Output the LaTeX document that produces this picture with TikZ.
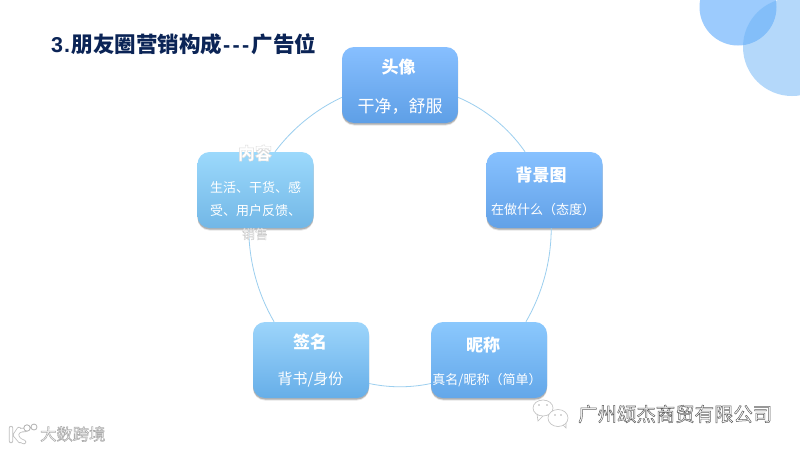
\documentclass[tikz,border=0pt]{standalone}
\usepackage{fontspec}
\usetikzlibrary{shadows}
\setmainfont{Noto Sans CJK SC}
\newfontfamily\latinbold[BoldFont=Liberation Sans Bold]{Liberation Sans}
\definecolor{titleblue}{HTML}{0B2456}
\definecolor{linkblue}{HTML}{9CCFEF}
\newcommand{\strokedtext}[3]{\special{pdf:code q 2 Tr #1 w #2 G}#3\special{pdf:code Q}}
\tikzset{
  box/.style={rounded corners=12pt,minimum width=116pt,minimum height=76pt,inner sep=0pt,
    general shadow={shadow yshift=-2.5pt,fill=black,opacity=.10,rounded corners=12pt,minimum width=118pt,minimum height=76pt},
    general shadow={shadow yshift=-1.5pt,fill=black,opacity=.22,rounded corners=12pt}},
  headtxt/.style={text=white,font=\fontsize{17}{17}\selectfont\bfseries,inner sep=0pt},
  subtxt/.style={text=white,font=\fontsize{13}{13}\selectfont,inner sep=0pt},
  link/.style={draw=linkblue,line width=.8pt,looseness=.87}
}
\begin{document}
\begin{tikzpicture}[x=1pt,y=-1pt]
\useasboundingbox (0,0) rectangle (800,450);
\fill[white] (0,0) rectangle (800,450);
% corner circles
\fill[fill={rgb,255:red,156;green,203;blue,253}] (738,7) circle[radius=38.5];
\fill[fill={rgb,255:red,107;green,179;blue,247},opacity=.5] (792,47) circle[radius=49];
% title
\node[anchor=west,inner sep=0pt,text=titleblue] (title) at (51,44)
  {\fontsize{21.5}{21.5}\selectfont\bfseries{\latinbold\bfseries 3\kern1pt.\kern1.5pt}朋友圈营销构成{\latinbold\bfseries\kern1pt-\kern2.3pt-\kern2.3pt-\kern2.3pt}广告位};
% boxes
\node[box,top color={rgb,255:red,135;green,191;blue,255},bottom color={rgb,255:red,94;green,159;blue,230}] (head) at (400,85) {};
\node[box,top color={rgb,255:red,135;green,193;blue,255},bottom color={rgb,255:red,98;green,161;blue,231}] (bg) at (544.5,190) {};
\node[box,top color={rgb,255:red,139;green,200;blue,253},bottom color={rgb,255:red,99;green,167;blue,233}] (nick) at (489,360) {};
\node[box,top color={rgb,255:red,157;green,213;blue,251},bottom color={rgb,255:red,102;green,174;blue,232}] (sign) at (311,360) {};
\node[box,top color={rgb,255:red,156;green,217;blue,252},bottom color={rgb,255:red,114;green,183;blue,230}] (cont) at (255.5,190) {};
% ring
\draw[link] (head.-12) to[bend left=16] (bg.117);
\draw[link] (bg.-80) to[bend left=15] (nick.46);
\draw[link] (nick.202) to[bend left=12] (sign.-22);
\draw[link] (sign.134) to[bend left=15] (cont.260);
\draw[link] (cont.63) to[bend left=14] (head.192);
% texts
\node[headtxt] (t1) at (398.5,67) {头像};
\node[text=white,inner sep=0pt,font=\fontsize{17}{17}\selectfont] (s1) at (400,106) {干净，舒服};
\node[headtxt] (t2) at (541,175) {背景图};
\node[subtxt] (s2) at (543,210) {在做什么（态度）};
\node[headtxt] (t3) at (483,345) {昵称};
\node[subtxt] (s3) at (487,380) {真名/昵称（简单）};
\node[headtxt] (t4) at (310,342) {签名};
\node[text=white,inner sep=0pt,font=\fontsize{15}{15}\selectfont] (s4) at (310.5,380) {背书/身份};
\node[headtxt] (t5) at (255,153) {\strokedtext{.45}{.86}{内容}};
\node[subtxt,anchor=west] (s5a) at (210,188) {生活、干货、感};
\node[subtxt,anchor=west] (s5b) at (210,211) {受、用户反馈、};
\node[subtxt] (s5c) at (255,234) {\strokedtext{.35}{.8}{销售}};
% watermark left
\begin{scope}[line cap=round,line join=round]
  \draw[gray!50,line width=4.4pt] (11,428) -- (11,441) (25,430) .. controls (15,429) and (14,439) .. (24,442) (19,429) -- (15,435) -- (20,441);
  \draw[white,line width=2.8pt] (11,428) -- (11,441) (25,430) .. controls (15,429) and (14,439) .. (24,442) (19,429) -- (15,435) -- (20,441);
  \draw[gray!60,line width=.8pt,fill=white] (27,428) circle[radius=3.2] (34,427) circle[radius=3];
\end{scope}
\node[anchor=west,inner sep=0pt,text=white,font=\fontsize{16.3}{16.3}\selectfont] (wm1) at (40,434) {\strokedtext{.55}{.68}{大数跨境}};
% watermark right
\begin{scope}[draw=gray!50,line width=.6pt]
  \draw[fill=white] (543,408) ellipse[x radius=10,y radius=8];
  \draw (537,414) -- (538,421) -- (543,416);
  \draw[fill=white] (558,418) ellipse[x radius=10,y radius=8.5];
  \draw (563,425) -- (566,428) -- (566,423);
  \fill[gray!60] (539,405) circle[radius=.9] (547,405) circle[radius=.9] (555,415) circle[radius=.9] (561,415) circle[radius=.9];
\end{scope}
\node[anchor=west,inner sep=0pt,text=white,font=\fontsize{19.4}{19.4}\selectfont] (wm2) at (578,414) {\strokedtext{.5}{.38}{广州颂杰商贸有限公司}};
\end{tikzpicture}
\end{document}
